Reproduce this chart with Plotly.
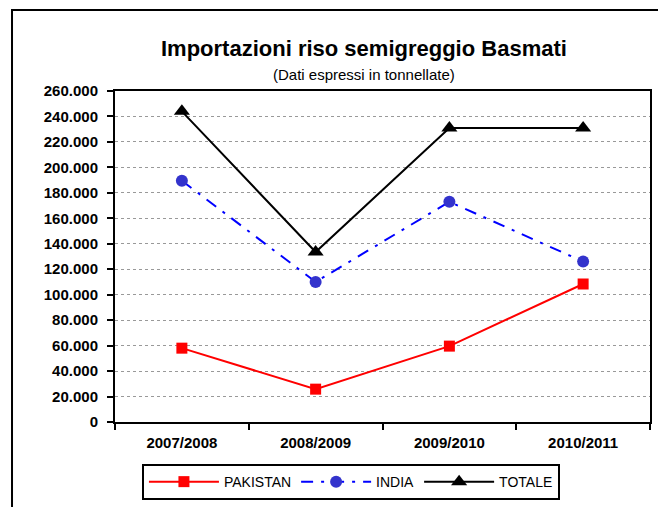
import plotly.graph_objects as go

categories = ["2007/2008", "2008/2009", "2009/2010", "2010/2011"]
pakistan = [58000, 25800, 59600, 108400]
india = [189500, 110000, 173000, 126000]
totale = [244000, 133500, 231000, 231000]

title_text = "Importazioni riso semigreggio Basmati"
subtitle_text = "(Dati espressi in tonnellate)"

FONT = "Liberation Sans, Arial, sans-serif"

fig = go.Figure()
fig.add_trace(go.Scatter(
    x=categories, y=pakistan, name="PAKISTAN", mode="lines+markers",
    line=dict(color="#FF0000", width=2),
    marker=dict(symbol="square", size=11, color="#FF0000"),
))
fig.add_trace(go.Scatter(
    x=categories, y=india, name="INDIA", mode="lines+markers",
    line=dict(color="#0000FF", width=2, dash="12px,8px,3px,8px"),
    marker=dict(symbol="circle", size=12, color="#3333CC"),
))
fig.add_trace(go.Scatter(
    x=categories, y=totale, name="TOTALE", mode="lines+markers",
    line=dict(color="#000000", width=2),
    marker=dict(symbol="triangle-up", size=14, color="#000000"),
))

# the page body has an 8px default margin, so the figure is sized to fit inside it
fig.update_layout(
    width=658, height=499,
    margin=dict(l=107, r=16, t=83, b=85, autoexpand=False),
    paper_bgcolor="white", plot_bgcolor="white",
    separators=",.",
    font=dict(family=FONT, color="black"),
    showlegend=True,
    legend=dict(
        orientation="h", x=0.441, xanchor="center", y=-0.127, yanchor="top",
        bordercolor="black", borderwidth=2, bgcolor="white",
        font=dict(size=14, family=FONT),
        itemwidth=70,
    ),
    annotations=[
        dict(text="<b>" + title_text + "</b>", xref="paper", yref="paper",
             x=0.465, y=1.127, xanchor="center", yanchor="middle", showarrow=False,
             font=dict(size=22, family=FONT)),
        dict(text=subtitle_text, xref="paper", yref="paper",
             x=0.465, y=1.051, xanchor="center", yanchor="middle", showarrow=False,
             font=dict(size=15, family=FONT)),
    ],
    shapes=[
        dict(type="rect", xref="paper", yref="paper",
             x0=-0.1925, x1=1.028, y0=-0.35, y1=1.245,
             line=dict(color="black", width=2), layer="below"),
    ],
)

fig.update_xaxes(
    type="category", range=[-0.5, 3.5],
    showline=True, linecolor="black", linewidth=2, mirror=True,
    ticks="outside", tickson="boundaries", ticklen=6, tickwidth=2, tickcolor="black",
    showgrid=False, ticklabelstandoff=6,
    tickfont=dict(size=15, family=FONT, weight="bold"),
)
fig.update_yaxes(
    range=[0, 260000], dtick=20000, tick0=0, tickformat=",d",
    showline=True, linecolor="black", linewidth=2, mirror=True,
    ticks="outside", ticklen=6, tickwidth=2, tickcolor="black",
    showgrid=True, gridcolor="#999999", griddash="dot", gridwidth=1,
    zeroline=False, ticklabelstandoff=6,
    tickfont=dict(size=15, family=FONT, weight="bold"),
)

fig.write_html("out.html")
